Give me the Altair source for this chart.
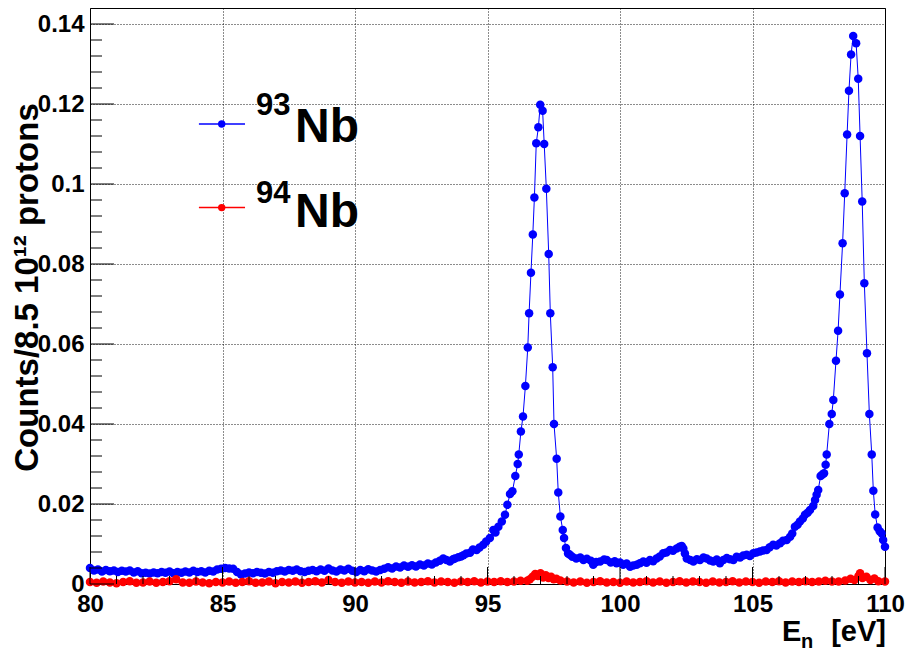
import altair as alt
import pandas as pd

FONT = "Liberation Sans"

# ---- data: (E_n [eV], counts / 8.5e12 protons) ----
nb93 = [
    (80.00, 0.0040), (80.15, 0.0034), (80.30, 0.0036), (80.45, 0.0031), (80.60, 0.0035),
    (80.75, 0.0032), (80.90, 0.0034), (81.05, 0.0030), (81.20, 0.0033), (81.35, 0.0031),
    (81.50, 0.0034), (81.65, 0.0029), (81.80, 0.0032), (81.95, 0.0027), (82.10, 0.0028),
    (82.25, 0.0026), (82.40, 0.0029), (82.55, 0.0027), (82.70, 0.0030), (82.85, 0.0028),
    (83.00, 0.0031), (83.15, 0.0027), (83.30, 0.0030), (83.45, 0.0028), (83.60, 0.0031),
    (83.75, 0.0029), (83.90, 0.0033), (84.05, 0.0030), (84.20, 0.0032), (84.35, 0.0029),
    (84.50, 0.0033), (84.65, 0.0031), (84.80, 0.0036), (84.95, 0.0038), (85.10, 0.0040),
    (85.25, 0.0039), (85.40, 0.0038), (85.55, 0.0030), (85.70, 0.0024), (85.85, 0.0026),
    (86.00, 0.0029), (86.15, 0.0027), (86.30, 0.0030), (86.45, 0.0028), (86.60, 0.0026),
    (86.75, 0.0030), (86.90, 0.0028), (87.05, 0.0032), (87.20, 0.0034), (87.35, 0.0031),
    (87.50, 0.0035), (87.65, 0.0033), (87.80, 0.0036), (87.95, 0.0032), (88.10, 0.0030),
    (88.25, 0.0033), (88.40, 0.0035), (88.55, 0.0032), (88.70, 0.0036), (88.85, 0.0033),
    (89.00, 0.0039), (89.15, 0.0034), (89.30, 0.0031), (89.45, 0.0036), (89.60, 0.0034),
    (89.75, 0.0038), (89.90, 0.0033), (90.05, 0.0030), (90.20, 0.0035), (90.35, 0.0032),
    (90.50, 0.0037), (90.65, 0.0034), (90.80, 0.0031), (90.95, 0.0035), (91.10, 0.0038),
    (91.25, 0.0042), (91.40, 0.0039), (91.55, 0.0044), (91.70, 0.0041), (91.85, 0.0046),
    (92.00, 0.0043), (92.15, 0.0047), (92.30, 0.0044), (92.45, 0.0049), (92.60, 0.0046),
    (92.75, 0.0051), (92.90, 0.0049), (93.05, 0.0054), (93.20, 0.0058), (93.33, 0.0064),
    (93.45, 0.0060), (93.58, 0.0056), (93.70, 0.0062), (93.77, 0.0064), (93.90, 0.0067),
    (94.00, 0.0069), (94.09, 0.0072), (94.20, 0.0076), (94.34, 0.0078), (94.45, 0.0086),
    (94.59, 0.0085), (94.70, 0.0091), (94.84, 0.0098), (94.95, 0.0106), (95.09, 0.0115),
    (95.22, 0.0135), (95.30, 0.0129), (95.41, 0.0143), (95.54, 0.0156), (95.66, 0.0173),
    (95.75, 0.0198), (95.85, 0.0225), (95.94, 0.0232), (96.05, 0.0270), (96.14, 0.0300),
    (96.18, 0.0324), (96.26, 0.0381), (96.34, 0.0419), (96.43, 0.0495), (96.52, 0.0591),
    (96.57, 0.0677), (96.64, 0.0778), (96.71, 0.0874), (96.77, 0.0966), (96.84, 0.1102),
    (96.92, 0.1142), (96.99, 0.1198), (97.08, 0.1183), (97.14, 0.1100), (97.22, 0.0988),
    (97.31, 0.0825), (97.37, 0.0677), (97.46, 0.0542), (97.51, 0.0400), (97.61, 0.0313),
    (97.67, 0.0229), (97.75, 0.0169), (97.84, 0.0135), (97.89, 0.0115), (97.96, 0.0090),
    (98.04, 0.0076), (98.11, 0.0073), (98.20, 0.0068), (98.35, 0.0064), (98.50, 0.0066),
    (98.62, 0.0060), (98.75, 0.0063), (98.90, 0.0058), (98.99, 0.0048), (99.10, 0.0055),
    (99.25, 0.0056), (99.40, 0.0061), (99.50, 0.0060), (99.65, 0.0054), (99.80, 0.0057),
    (99.87, 0.0052), (100.00, 0.0054), (100.12, 0.0048), (100.25, 0.0051), (100.38, 0.0043),
    (100.50, 0.0046), (100.63, 0.0048), (100.75, 0.0052), (100.88, 0.0056), (101.00, 0.0053),
    (101.13, 0.0060), (101.25, 0.0057), (101.38, 0.0064), (101.50, 0.0069), (101.63, 0.0077),
    (101.75, 0.0079), (101.89, 0.0085), (102.00, 0.0083), (102.14, 0.0089), (102.25, 0.0093),
    (102.33, 0.0095), (102.39, 0.0089), (102.45, 0.0076), (102.52, 0.0064), (102.65, 0.0060),
    (102.77, 0.0056), (102.90, 0.0062), (103.02, 0.0060), (103.15, 0.0066), (103.27, 0.0064),
    (103.40, 0.0059), (103.52, 0.0056), (103.65, 0.0061), (103.77, 0.0052), (103.90, 0.0060),
    (104.03, 0.0065), (104.15, 0.0062), (104.28, 0.0060), (104.40, 0.0068), (104.53, 0.0066),
    (104.65, 0.0071), (104.78, 0.0073), (104.90, 0.0070), (105.03, 0.0077), (105.15, 0.0079),
    (105.28, 0.0081), (105.40, 0.0084), (105.53, 0.0085), (105.65, 0.0092), (105.78, 0.0098),
    (105.90, 0.0096), (106.04, 0.0102), (106.15, 0.0108), (106.29, 0.0110), (106.42, 0.0118),
    (106.50, 0.0126), (106.60, 0.0143), (106.70, 0.0148), (106.79, 0.0156), (106.90, 0.0164),
    (106.98, 0.0173), (107.08, 0.0178), (107.17, 0.0185), (107.29, 0.0195), (107.36, 0.0210),
    (107.42, 0.0223), (107.48, 0.0235), (107.57, 0.0270), (107.64, 0.0274), (107.70, 0.0277),
    (107.76, 0.0298), (107.80, 0.0324), (107.90, 0.0400), (107.99, 0.0425), (108.05, 0.0460),
    (108.15, 0.0558), (108.23, 0.0633), (108.30, 0.0724), (108.40, 0.0852), (108.48, 0.0977),
    (108.57, 0.1124), (108.64, 0.1233), (108.72, 0.1324), (108.80, 0.1370), (108.91, 0.1352),
    (108.99, 0.1263), (109.06, 0.1120), (109.14, 0.0956), (109.22, 0.0752), (109.32, 0.0577),
    (109.41, 0.0425), (109.50, 0.0324), (109.56, 0.0233), (109.63, 0.0174), (109.72, 0.0141),
    (109.80, 0.0132), (109.87, 0.0127), (109.93, 0.0110), (110.00, 0.0093),
]

nb94 = [
    (80.00, 0.0005), (80.25, 0.0003), (80.50, 0.0006), (80.75, 0.0004), (81.00, 0.0002),
    (81.25, 0.0005), (81.50, 0.0007), (81.75, 0.0003), (82.00, 0.0004), (82.25, 0.0006),
    (82.50, 0.0003), (82.75, 0.0005), (83.00, 0.0007), (83.25, 0.0012), (83.50, 0.0004),
    (83.75, 0.0003), (84.00, 0.0006), (84.25, 0.0004), (84.50, 0.0002), (84.75, 0.0005),
    (85.00, 0.0004), (85.25, 0.0006), (85.50, 0.0003), (85.75, 0.0005), (86.00, 0.0007),
    (86.25, 0.0003), (86.50, 0.0004), (86.75, 0.0006), (87.00, 0.0002), (87.25, 0.0005),
    (87.50, 0.0004), (87.75, 0.0006), (88.00, 0.0003), (88.25, 0.0005), (88.50, 0.0007),
    (88.75, 0.0004), (89.00, 0.0010), (89.25, 0.0005), (89.50, 0.0003), (89.75, 0.0006),
    (90.00, 0.0004), (90.25, 0.0005), (90.50, 0.0003), (90.75, 0.0006), (91.00, 0.0004),
    (91.25, 0.0007), (91.50, 0.0005), (91.75, 0.0003), (92.00, 0.0006), (92.25, 0.0004),
    (92.50, 0.0005), (92.75, 0.0007), (93.00, 0.0004), (93.25, 0.0006), (93.50, 0.0005),
    (93.75, 0.0003), (94.00, 0.0006), (94.25, 0.0005), (94.50, 0.0007), (94.75, 0.0004),
    (95.00, 0.0006), (95.25, 0.0005), (95.50, 0.0007), (95.75, 0.0005), (96.00, 0.0006),
    (96.25, 0.0008), (96.50, 0.0008), (96.60, 0.0012), (96.70, 0.0018), (96.80, 0.0025),
    (96.90, 0.0020), (97.00, 0.0027), (97.10, 0.0016), (97.20, 0.0022), (97.30, 0.0015),
    (97.40, 0.0018), (97.50, 0.0012), (97.60, 0.0013), (97.75, 0.0009), (98.00, 0.0006),
    (98.25, 0.0004), (98.50, 0.0006), (98.75, 0.0003), (99.00, 0.0005), (99.25, 0.0007),
    (99.50, 0.0004), (99.75, 0.0005), (100.00, 0.0003), (100.25, 0.0006), (100.50, 0.0004),
    (100.75, 0.0005), (101.00, 0.0007), (101.25, 0.0004), (101.50, 0.0006), (101.75, 0.0003),
    (102.00, 0.0005), (102.25, 0.0007), (102.50, 0.0004), (102.75, 0.0006), (103.00, 0.0005),
    (103.25, 0.0003), (103.50, 0.0006), (103.75, 0.0004), (104.00, 0.0005), (104.25, 0.0007),
    (104.50, 0.0004), (104.75, 0.0006), (105.00, 0.0005), (105.25, 0.0003), (105.50, 0.0006),
    (105.75, 0.0005), (106.00, 0.0007), (106.25, 0.0004), (106.50, 0.0006), (106.75, 0.0005),
    (107.00, 0.0007), (107.25, 0.0005), (107.50, 0.0006), (107.75, 0.0008), (108.00, 0.0006),
    (108.25, 0.0006), (108.50, 0.0009), (108.70, 0.0013), (108.85, 0.0010), (109.00, 0.0020),
    (109.06, 0.0027), (109.15, 0.0015), (109.30, 0.0018), (109.45, 0.0010), (109.60, 0.0014),
    (109.75, 0.0007), (110.00, 0.0006),
]

x_major = [80, 85, 90, 95, 100, 105, 110]
x_minor = [81, 82, 83, 84, 86, 87, 88, 89, 91, 92, 93, 94, 96, 97, 98, 99,
           101, 102, 103, 104, 106, 107, 108, 109]
y_major = [0.0, 0.02, 0.04, 0.06, 0.08, 0.10, 0.12, 0.14]
y_minor = [0.004, 0.008, 0.012, 0.016, 0.024, 0.028, 0.032, 0.036, 0.044, 0.048,
           0.052, 0.056, 0.064, 0.068, 0.072, 0.076, 0.084, 0.088, 0.092, 0.096,
           0.104, 0.108, 0.112, 0.116, 0.124, 0.128, 0.132, 0.136]

legend_rows = [
    {"e1": 84.11, "e2": 85.85, "em": 84.97, "v": 0.1150, "mass": "93", "col": "#0000ff",
     "e_sup": 86.26, "v_sup": 0.11725, "e_nb": 87.74, "v_nb": 0.1106},
    {"e1": 84.11, "e2": 85.85, "em": 84.97, "v": 0.0941, "mass": "94", "col": "#ff0000",
     "e_sup": 86.26, "v_sup": 0.09525, "e_nb": 87.74, "v_nb": 0.0893},
]

BLUE = "#0000ff"
RED = "#ff0000"
MSIZE = 72

df93 = pd.DataFrame(nb93, columns=["E", "v"])
df94 = pd.DataFrame(nb94, columns=["E", "v"])
leg = pd.DataFrame(legend_rows)
leg["nb"] = "Nb"

xscale = alt.Scale(domain=[80, 110], nice=False, zero=False)
yscale = alt.Scale(domain=[0, 0.144], nice=False, zero=False)

xaxis = alt.Axis(values=x_major, format="d", ticks=False, domain=False, title=None,
                 labelFont=FONT, labelFontSize=24, labelFontWeight="bold", labelColor="black",
                 labelPadding=8, labelFlush=False, grid=True, gridDash=[1, 2],
                 gridColor="black", gridOpacity=0.9, gridWidth=1)
yaxis = alt.Axis(values=y_major, format=".2~f", ticks=False, domain=False,
                 title="Counts/8.5 10¹² protons", titleFont=FONT, titleFontSize=33,
                 titleFontWeight="bold", titleColor="black", titleAngle=-90,
                 titleX=-53, titleY=279, titleAlign="center", titleBaseline="alphabetic",
                 labelFont=FONT, labelFontSize=24, labelFontWeight="bold", labelColor="black",
                 labelPadding=6, labelFlush=False, grid=True, gridDash=[1, 2],
                 gridColor="black", gridOpacity=0.9, gridWidth=1)

X = alt.X("E:Q", scale=xscale, axis=xaxis)
Y = alt.Y("v:Q", scale=yscale, axis=yaxis)

line93 = alt.Chart(df93).mark_line(color=BLUE, strokeWidth=1).encode(x=X, y=Y, order="E:Q")
pts93 = alt.Chart(df93).mark_circle(color=BLUE, size=MSIZE, opacity=1).encode(x="E:Q", y="v:Q")
line94 = alt.Chart(df94).mark_line(color=RED, strokeWidth=1).encode(x="E:Q", y="v:Q", order="E:Q")
pts94 = alt.Chart(df94).mark_circle(color=RED, size=MSIZE, opacity=1).encode(x="E:Q", y="v:Q")

# inward ticks (ROOT style)
ymaj = alt.Chart(pd.DataFrame({"v": y_major})).mark_rule(color="black", strokeWidth=1).encode(
    y="v:Q", x=alt.value(0), x2=alt.value(24))
ymin = alt.Chart(pd.DataFrame({"v": y_minor})).mark_rule(color="black", strokeWidth=1).encode(
    y="v:Q", x=alt.value(0), x2=alt.value(12))
xmaj = alt.Chart(pd.DataFrame({"E": x_major})).mark_rule(color="black", strokeWidth=1).encode(
    x="E:Q", y=alt.value(576), y2=alt.value(559))
xmin = alt.Chart(pd.DataFrame({"E": x_minor})).mark_rule(color="black", strokeWidth=1).encode(
    x="E:Q", y=alt.value(576), y2=alt.value(568))

# legend
leg_line = alt.Chart(leg).mark_rule(strokeWidth=1.5).encode(
    x="e1:Q", x2="e2:Q", y="v:Q", color=alt.Color("col:N", scale=None))
leg_pt = alt.Chart(leg).mark_circle(size=55, opacity=1).encode(
    x="em:Q", y="v:Q", color=alt.Color("col:N", scale=None))
leg_sup = alt.Chart(leg).mark_text(align="left", baseline="alphabetic", font=FONT,
                                   fontSize=31, fontWeight="bold", color="black").encode(
    x="e_sup:Q", y="v_sup:Q", text="mass:N")
leg_nb = alt.Chart(leg).mark_text(align="left", baseline="alphabetic", font=FONT,
                                  fontSize=48, fontWeight="bold", color="black").encode(
    x="e_nb:Q", y="v_nb:Q", text="nb:N")

# x-axis title E_n [eV]
xt_E = alt.Chart(pd.DataFrame({"t": ["E"]})).mark_text(
    align="left", baseline="alphabetic", font=FONT, fontSize=29, fontWeight="bold",
    color="black").encode(x=alt.value(692), y=alt.value(633), text="t:N")
xt_n = alt.Chart(pd.DataFrame({"t": ["n"]})).mark_text(
    align="left", baseline="alphabetic", font=FONT, fontSize=20, fontWeight="bold",
    color="black").encode(x=alt.value(711), y=alt.value(640), text="t:N")
xt_u = alt.Chart(pd.DataFrame({"t": ["[eV]"]})).mark_text(
    align="right", baseline="alphabetic", font=FONT, fontSize=29, fontWeight="bold",
    color="black").encode(x=alt.value(796), y=alt.value(633), text="t:N")

chart = alt.layer(
    line93, line94, pts93, pts94, ymaj, ymin, xmaj, xmin,
    leg_line, leg_pt, leg_sup, leg_nb, xt_E, xt_n, xt_u
).properties(
    width=795, height=576,
    padding={"left": 90, "top": 8, "right": 29, "bottom": 75},
    autosize=alt.AutoSizeParams(type="none"),
    background="white",
).configure_view(stroke="black", strokeWidth=1)

chart.save("out.html", embed_options={"renderer": "svg", "actions": False})
